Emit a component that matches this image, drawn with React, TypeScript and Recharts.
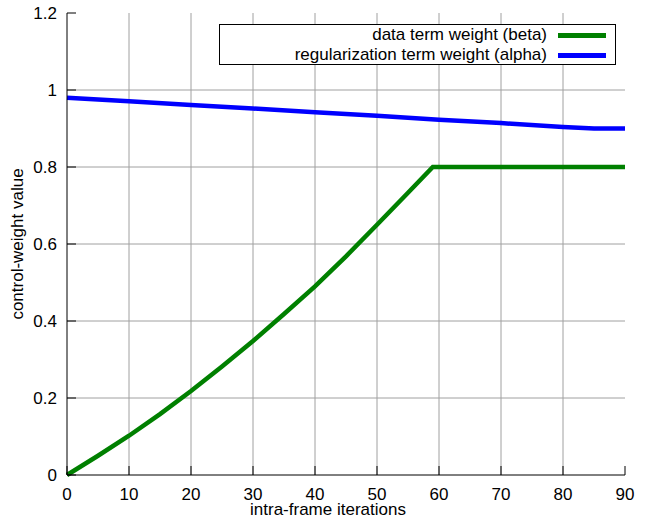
import { Label, Line, LineChart, ReferenceLine, XAxis, YAxis } from "recharts";

const X_TICKS = [0, 10, 20, 30, 40, 50, 60, 70, 80, 90];
const Y_TICKS = [0, 0.2, 0.4, 0.6, 0.8, 1, 1.2];

const betaIter = [0, 5, 10, 15, 20, 25, 30, 35, 40, 45, 50, 55, 59, 60, 70, 80, 90];
const betaValues = [0, 0.05, 0.102, 0.158, 0.218, 0.282, 0.348, 0.418, 0.49, 0.568, 0.65, 0.733, 0.8, 0.8, 0.8, 0.8, 0.8];

const alphaIter = [0, 10, 20, 30, 40, 50, 60, 70, 80, 85, 90];
const alphaValues = [0.98, 0.971, 0.961, 0.952, 0.942, 0.933, 0.923, 0.914, 0.904, 0.9, 0.9];

const betaData = betaIter.map((x, i) => ({ x, y: betaValues[i] }));
const alphaData = alphaIter.map((x, i) => ({ x, y: alphaValues[i] }));

const FONT = "'Liberation Sans', Arial, sans-serif";
const FONT_SIZE = 17;
const GREEN = "#008000";
const BLUE = "#0000ff";
const GRID = "#a0a0a0";
const TICK_LEN = 9;

function BottomTick(props: any) {
  const { x, y, payload } = props;
  const axisY = y - 13;
  return (
    <g>
      <line x1={x} x2={x} y1={axisY} y2={axisY - TICK_LEN} stroke="#000" />
      <text x={x} y={y} dy="0.71em" textAnchor="middle" fontSize={FONT_SIZE} fontFamily={FONT} fill="#000">
        {payload.value}
      </text>
    </g>
  );
}

function LeftTick(props: any) {
  const { x, y, payload } = props;
  const axisX = x + 10;
  return (
    <g>
      <line x1={axisX} x2={axisX + TICK_LEN} y1={y} y2={y} stroke="#000" />
      <text x={x} y={y} dy="0.355em" textAnchor="end" fontSize={FONT_SIZE} fontFamily={FONT} fill="#000">
        {payload.value}
      </text>
    </g>
  );
}

function TopTick(props: any) {
  const { x, y } = props;
  return <line x1={x} x2={x} y1={y} y2={y + TICK_LEN} stroke="#000" />;
}

function RightTick(props: any) {
  const { x, y } = props;
  return <line x1={x} x2={x - TICK_LEN} y1={y} y2={y} stroke="#000" />;
}

const legendItems = [
  { label: "data term weight (beta)", color: GREEN },
  { label: "regularization term weight (alpha)", color: BLUE },
];

function ChartLegend() {
  return (
    <div
      style={{
        position: "absolute",
        left: 219,
        top: 24,
        boxSizing: "border-box",
        width: 397,
        height: 41,
        border: "1px solid #000",
        background: "#fff",
        fontFamily: FONT,
        fontSize: FONT_SIZE,
        color: "#000",
      }}
    >
      {legendItems.map((item) => (
        <div
          key={item.label}
          style={{ display: "flex", justifyContent: "flex-end", alignItems: "center", height: 20, paddingRight: 9 }}
        >
          <span style={{ lineHeight: "20px" }}>{item.label}</span>
          <span style={{ display: "inline-block", width: 48, height: 5, background: item.color, marginLeft: 11 }} />
        </div>
      ))}
    </div>
  );
}

export default function App() {
  return (
    <div style={{ position: "absolute", left: 0, top: 0, width: 645, height: 518, background: "#fff" }}>
      <LineChart width={645} height={518} margin={{ top: 13, right: 20, bottom: 0, left: 0 }}>
        {X_TICKS.slice(1, -1).map((t) => (
          <ReferenceLine key={`vx${t}`} x={t} stroke={GRID} strokeWidth={1} />
        ))}
        {Y_TICKS.slice(1, -1).map((t) => (
          <ReferenceLine key={`hy${t}`} y={t} stroke={GRID} strokeWidth={1} />
        ))}
        <XAxis
          dataKey="x"
          type="number"
          domain={[0, 90]}
          ticks={X_TICKS}
          height={43}
          tickSize={0}
          tickMargin={13}
          tickLine={false}
          axisLine={{ stroke: "#000" }}
          tick={<BottomTick />}
        >
          <Label
            content={({ viewBox }: any) => (
              <text
                x={viewBox.x + viewBox.width / 2 - 18}
                y={viewBox.y + 40}
                textAnchor="middle"
                fontSize={FONT_SIZE}
                fontFamily={FONT}
                fill="#000"
              >
                intra-frame iterations
              </text>
            )}
          />
        </XAxis>
        <XAxis
          xAxisId="top"
          orientation="top"
          dataKey="x"
          type="number"
          domain={[0, 90]}
          ticks={X_TICKS}
          height={0}
          tickSize={0}
          tickMargin={0}
          tickLine={false}
          axisLine={{ stroke: "#000" }}
          tick={<TopTick />}
        />
        <YAxis
          type="number"
          domain={[0, 1.2]}
          ticks={Y_TICKS}
          width={67}
          tickSize={0}
          tickMargin={10}
          tickLine={false}
          axisLine={{ stroke: "#000" }}
          tick={<LeftTick />}
        >
          <Label
            content={({ viewBox }: any) => {
              const cx = viewBox.x + 23;
              const cy = viewBox.y + viewBox.height / 2;
              return (
                <text
                  x={cx}
                  y={cy}
                  transform={`rotate(-90 ${cx} ${cy})`}
                  textAnchor="middle"
                  fontSize={FONT_SIZE}
                  fontFamily={FONT}
                  fill="#000"
                >
                  control-weight value
                </text>
              );
            }}
          />
        </YAxis>
        <YAxis
          yAxisId="right"
          orientation="right"
          type="number"
          domain={[0, 1.2]}
          ticks={Y_TICKS}
          width={0}
          tickSize={0}
          tickMargin={0}
          tickLine={false}
          axisLine={{ stroke: "#000" }}
          tick={<RightTick />}
        />
        <Line
          data={betaData}
          dataKey="y"
          type="linear"
          stroke={GREEN}
          strokeWidth={4.5}
          dot={false}
          isAnimationActive={false}
        />
        <Line
          data={alphaData}
          dataKey="y"
          type="linear"
          stroke={BLUE}
          strokeWidth={4.5}
          dot={false}
          isAnimationActive={false}
        />
      </LineChart>
      <ChartLegend />
    </div>
  );
}
